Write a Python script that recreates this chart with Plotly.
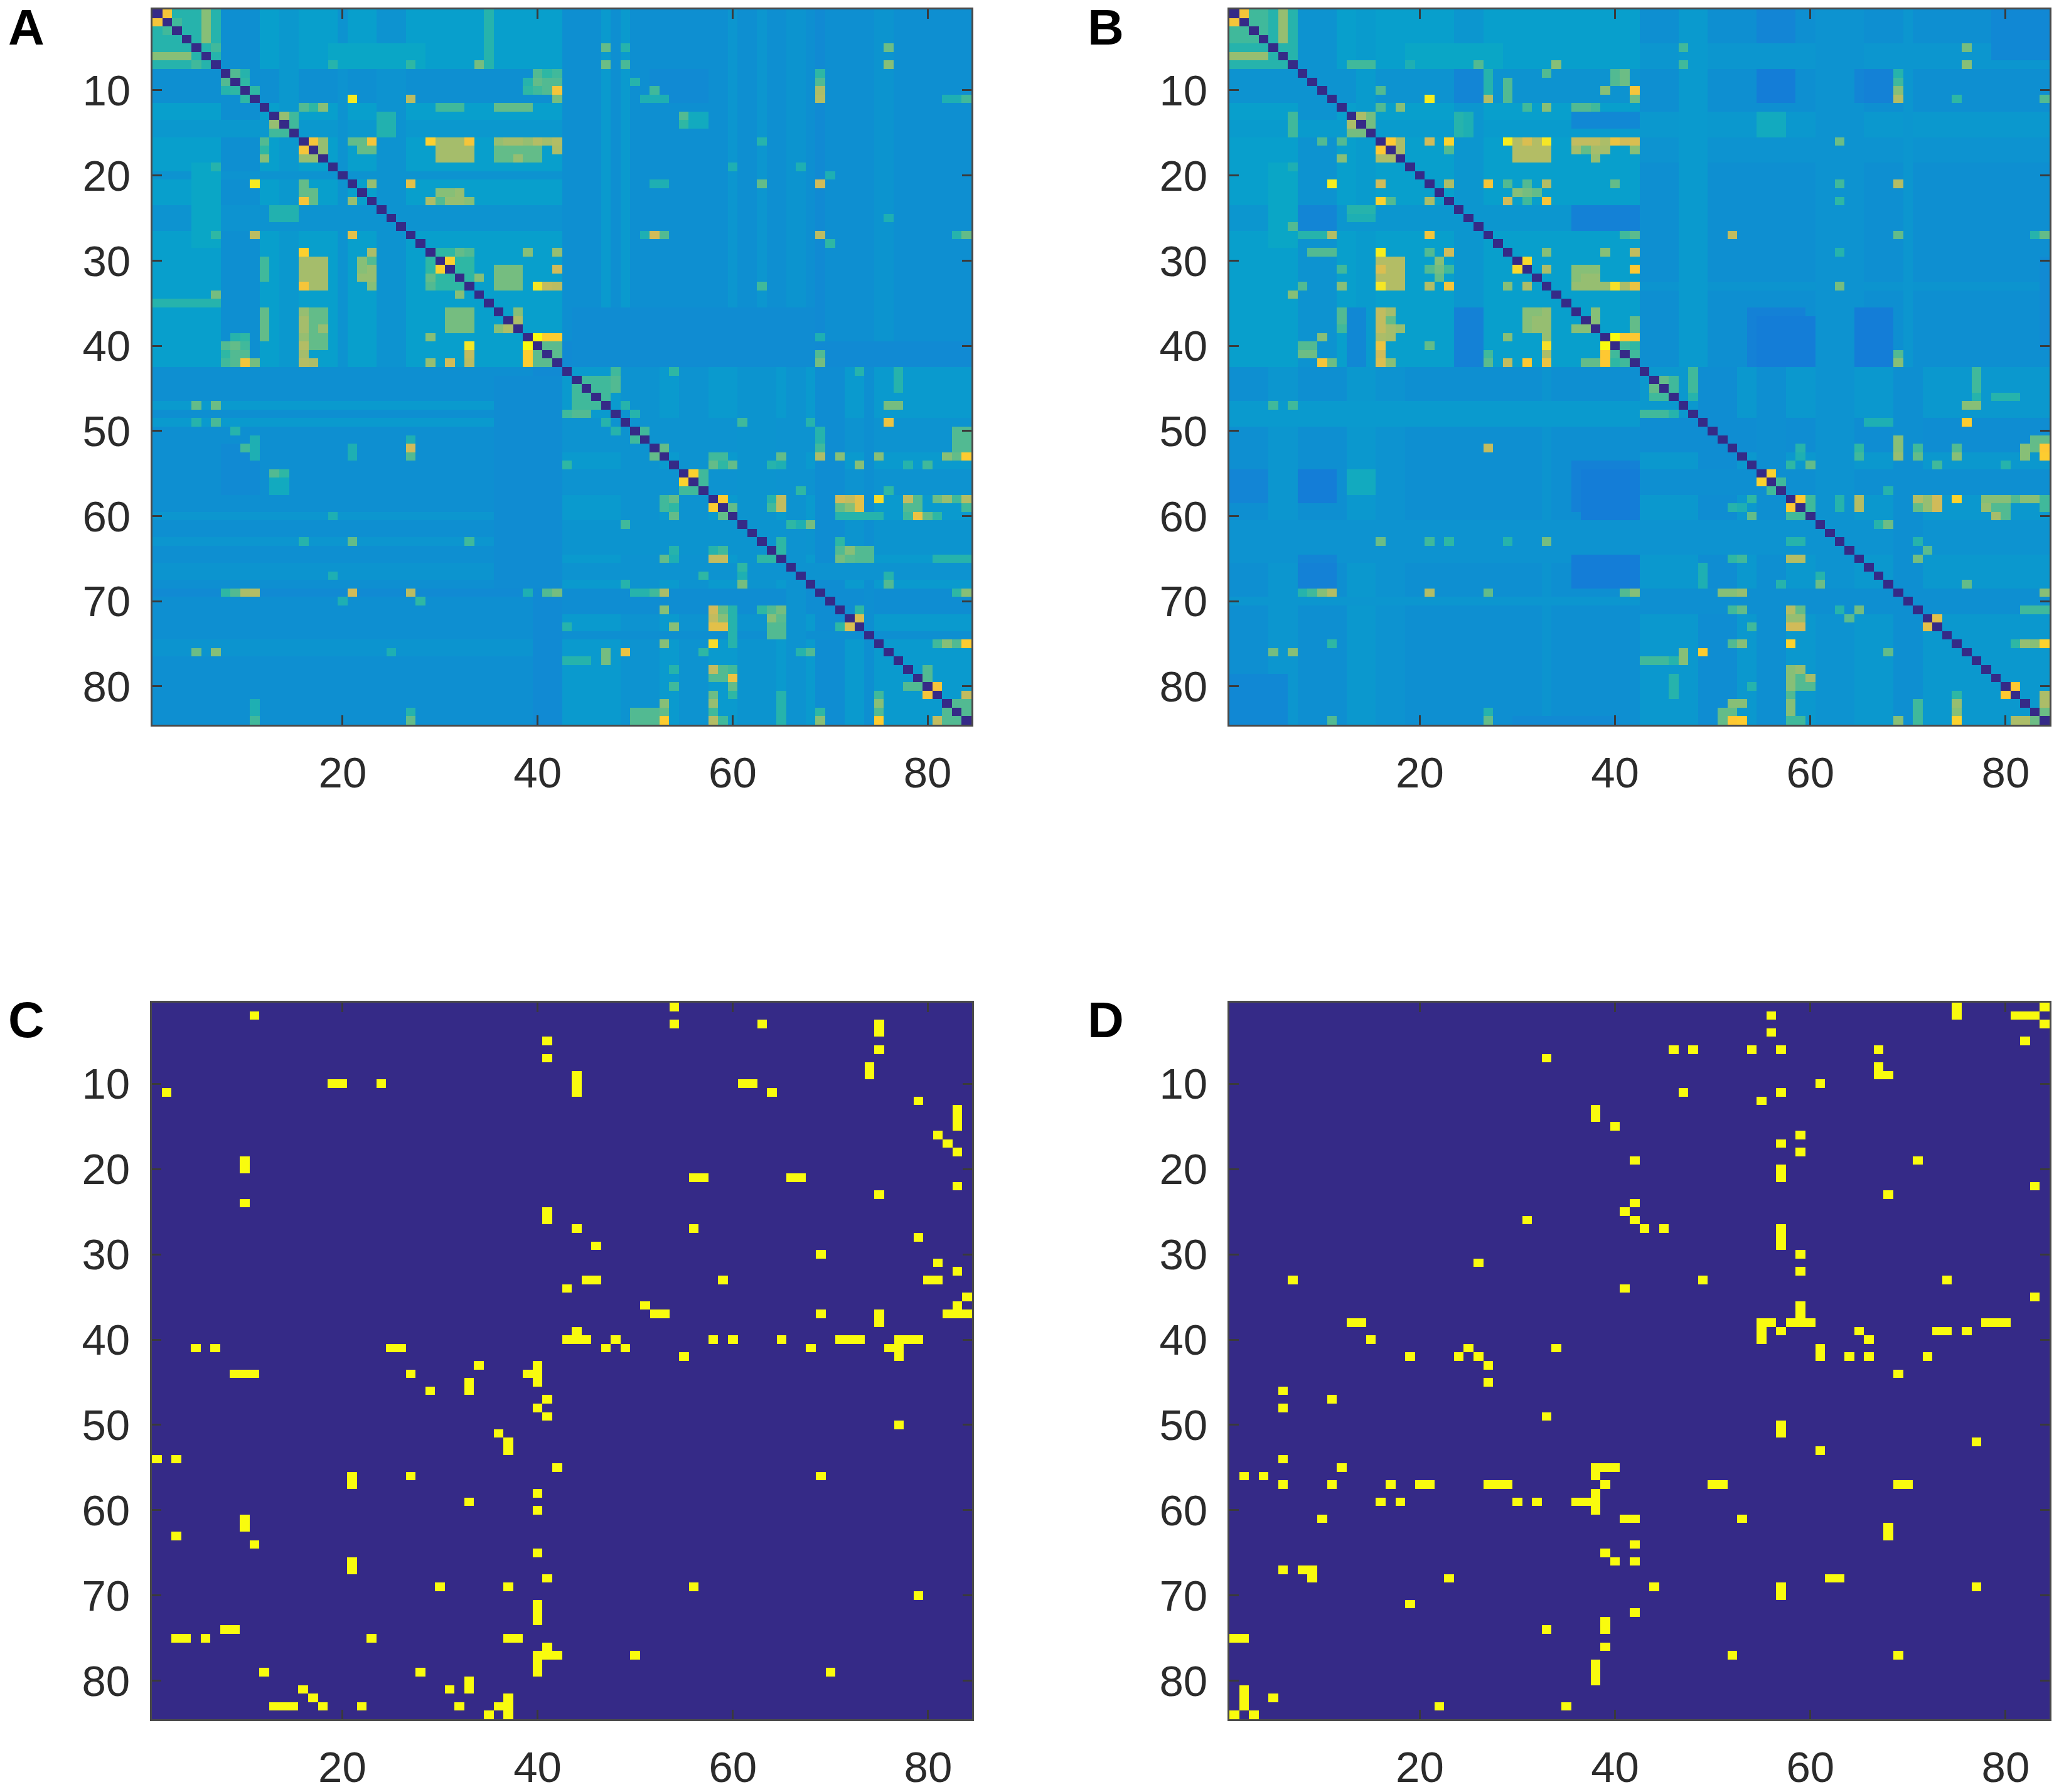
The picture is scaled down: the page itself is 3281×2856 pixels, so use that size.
import numpy as np
import plotly.graph_objects as go

N = 84
WIDTH = 3281
HEIGHT = 2856
PAGE_MARGIN = 8  # the browser's default body margin round the figure
X_TICKS = [20, 40, 60, 80]
Y_TICKS = [10, 20, 30, 40, 50, 60, 70, 80]
PANEL_LETTERS = ["A", "B", "C", "D"]

# MATLAB parula, as it looks in the picture
PARULA = [[0, "#352a87"], [0.1, "#0f5cdd"], [0.2, "#1481d6"], [0.3, "#06a4ca"], [0.4, "#2eb7a4"],
          [0.5, "#87bf77"], [0.6, "#d1bb59"], [0.7, "#fec832"], [0.85, "#f5e626"], [1, "#f9fb0e"]]
BINARY = [[0, "#352a87"], [1, "#f9fb0e"]]

# all matrices are symmetric, so only row < col is read off the picture
# blocks are (row1, row2, col1, col2, value), later ones paint over earlier ones
A_BLOCKS = [
    (1, 42, 1, 42, .285), (1, 42, 8, 11, .24), (1, 42, 14, 15, .265), (1, 42, 20, 20, .25), (1, 42, 24, 26, .25),
    (1, 42, 43, 84, .24), (1, 42, 47, 47, .27), (1, 42, 49, 49, .27), (1, 42, 60, 60, .26), (1, 42, 63, 63, .26),
    (1, 42, 66, 67, .255), (1, 42, 75, 76, .255), (1, 42, 69, 69, .225), (40, 42, 43, 84, .225), (8, 11, 52, 57, .225),
    (36, 42, 44, 68, .23), (43, 84, 43, 84, .27), (43, 84, 49, 52, .25), (43, 84, 55, 57, .25), (43, 84, 61, 64, .255),
    (43, 84, 69, 71, .235), (43, 84, 74, 74, .24), (43, 84, 66, 67, .25), (1, 7, 1, 7, .38), (1, 4, 6, 6, .5),
    (5, 7, 19, 28, .31), (16, 18, 30, 32, .55), (16, 17, 36, 39, .5), (30, 33, 16, 18, .54), (30, 32, 22, 23, .52),
    (31, 33, 36, 38, .48), (29, 33, 29, 32, .4), (12, 12, 36, 38, .5), (12, 12, 30, 32, .42), (36, 39, 12, 12, .46),
    (36, 42, 16, 16, .54), (36, 40, 17, 18, .46), (24, 25, 13, 15, .37), (22, 23, 16, 17, .46), (35, 35, 1, 7, .38),
    (13, 15, 25, 25, .37), (40, 42, 8, 10, .42), (44, 47, 44, 47, .42), (43, 44, 48, 48, .42), (48, 48, 43, 45, .44),
    (51, 52, 83, 84, .44), (58, 59, 53, 54, .4), (58, 59, 71, 72, .46), (60, 60, 71, 75, .38), (64, 65, 72, 73, .43),
    (64, 65, 58, 59, .38), (71, 72, 58, 59, .5), (71, 72, 64, 65, .44), (73, 74, 64, 65, .44), (66, 68, 61, 61, .36),
    (81, 84, 65, 65, .38), (81, 83, 58, 58, .5), (83, 84, 50, 52, .44), (78, 79, 80, 80, .46), (13, 14, 55, 57, .33),
    (82, 83, 84, 84, .42), (79, 79, 58, 59, .44),
]
A_CELLS = [
    (1, 2, .68), (2, 3, .42), (5, 7, .42), (7, 34, .48), (7, 27, .4), (7, 19, .38), (8, 9, .44), (8, 10, .38), (9, 10, .4),
    (10, 11, .4), (8, 40, .44), (9, 39, .38), (9, 40, .46), (9, 41, .44), (8, 41, .4), (10, 41, .44), (10, 42, .67),
    (11, 42, .48), (11, 21, .88), (11, 27, .57), (12, 16, .44), (12, 17, .4), (12, 18, .5), (13, 14, .52), (13, 15, .42),
    (14, 15, .42), (16, 17, .68), (16, 18, .52), (17, 18, .52), (16, 21, .46), (16, 23, .68), (16, 29, .74), (16, 33, .66),
    (16, 40, .56), (16, 42, .56), (17, 42, .55), (18, 38, .52), (21, 23, .52), (21, 27, .64), (17, 23, .46), (22, 30, .5),
    (22, 31, .5), (23, 29, .55), (23, 30, .44), (23, 33, .5), (29, 33, .44), (29, 39, .5), (29, 42, .52), (16, 33, .68),
    (30, 31, .74), (32, 34, .5), (33, 40, .88), (33, 41, .58), (33, 42, .57), (31, 42, .6), (37, 38, .55), (36, 38, .5),
    (38, 18, .52), (39, 40, 1.0), (39, 41, .72), (39, 42, .72), (40, 41, .45), (40, 42, .45), (41, 42, .45), (33, 40, .88),
    (10, 42, .68), (40, 33, .86), (39, 16, .52), (9, 42, .44), (11, 42, .48), (10, 40, .42),
    (16, 36, .52), (17, 36, .46), (29, 32, .46), (16, 42, .55), (10, 39, .4), (39, 29, .5), (42, 16, .56), (17, 42, .55),
    (5, 47, .46), (5, 49, .38), (7, 47, .47), (7, 49, .43), (5, 76, .47), (7, 76, .5), (8, 69, .4), (9, 69, .44),
    (10, 69, .55), (11, 69, .56), (10, 52, .42), (11, 51, .36), (11, 52, .36), (11, 53, .36), (9, 50, .38), (13, 55, .44),
    (14, 55, .4), (16, 63, .38), (21, 69, .6), (21, 63, .46), (21, 52, .36), (21, 53, .36), (19, 60, .36), (19, 67, .36),
    (20, 70, .36), (27, 52, .6), (27, 53, .44), (27, 51, .36), (27, 69, .57), (28, 70, .4), (27, 84, .46), (27, 83, .38),
    (25, 76, .36), (33, 63, .42), (39, 69, .36), (41, 69, .44), (42, 69, .48), (11, 84, .42), (11, 83, .36), (11, 82, .36),
    (43, 48, .42), (43, 73, .38), (44, 77, .38), (45, 77, .38), (47, 76, .46), (47, 77, .46), (49, 76, .62), (49, 61, .42),
    (49, 68, .38), (47, 49, .38), (48, 50, .38), (50, 51, .42), (52, 53, .46), (53, 58, .42), (53, 59, .42), (53, 65, .46),
    (51, 69, .42), (52, 69, .42), (53, 69, .55), (53, 71, .5), (53, 75, .48), (53, 82, .5), (53, 84, .68), (54, 58, .46),
    (54, 60, .48), (54, 73, .48), (54, 80, .42), (54, 78, .38), (54, 64, .36), (54, 65, .36), (43, 54, .4), (55, 56, .75),
    (55, 57, .42), (56, 57, .42), (57, 67, .42), (57, 76, .38), (58, 59, .72), (54, 58, .46), (58, 65, .55), (59, 65, .55),
    (59, 64, .42), (58, 71, .58), (58, 72, .52), (58, 73, .64), (59, 73, .62), (58, 75, .75), (58, 78, .56), (58, 79, .46),
    (58, 81, .47), (58, 82, .52), (58, 83, .42), (58, 84, .56), (59, 78, .44), (59, 79, .44), (60, 79, .62), (60, 80, .46),
    (60, 81, .4), (60, 78, .42), (59, 84, .42), (59, 60, .46), (54, 60, .46), (61, 68, .46), (61, 66, .4), (49, 61, .42),
    (63, 65, .38), (63, 71, .4), (64, 72, .5), (65, 71, .46), (65, 81, .38), (53, 65, .46), (54, 64, .38), (58, 65, .58),
    (59, 65, .58), (63, 65, .4), (64, 65, .4), (61, 68, .48), (57, 67, .4), (67, 76, .38), (68, 76, .44), (50, 69, .38),
    (51, 69, .38), (53, 69, .55), (69, 83, .38), (69, 84, .5), (53, 71, .5), (58, 71, .6), (59, 71, .46), (58, 72, .58),
    (65, 71, .48), (63, 71, .4), (64, 72, .5), (65, 72, .45), (58, 73, .64), (59, 73, .64), (54, 73, .5), (72, 73, .62),
    (71, 73, .4), (53, 75, .5), (58, 75, .8), (75, 84, .72), (75, 82, .52), (75, 83, .44), (75, 81, .4), (49, 76, .66),
    (47, 76, .48), (47, 77, .48), (43, 77, .38), (44, 77, .38), (68, 76, .44), (67, 76, .38), (57, 76, .4), (58, 78, .58),
    (60, 79, .66), (58, 79, .44), (54, 80, .42), (60, 80, .46), (80, 81, .68), (78, 80, .44), (79, 80, .44), (81, 84, .56),
    (53, 82, .5), (75, 82, .5), (75, 81, .42), (75, 83, .44), (53, 83, .46), (53, 84, .72), (51, 84, .44), (52, 84, .44),
    (58, 84, .56), (59, 84, .42), (69, 84, .5), (75, 84, .72), (81, 84, .58), (82, 84, .44), (83, 84, .44), (69, 83, .4),
    (82, 83, .44),
]

B_BLOCKS = [
    (1, 42, 1, 42, .285), (1, 42, 8, 11, .25), (1, 42, 14, 15, .275), (1, 42, 24, 26, .26), (1, 42, 43, 84, .235),
    (1, 42, 47, 47, .27), (1, 42, 49, 49, .265), (1, 42, 60, 60, .255), (1, 42, 63, 63, .265), (1, 42, 66, 67, .245),
    (1, 42, 75, 76, .25), (43, 84, 43, 84, .265), (43, 84, 1, 42, .24), (43, 84, 5, 7, .26), (43, 84, 13, 15, .265),
    (43, 84, 16, 18, .25), (43, 84, 33, 33, .255), (47, 49, 1, 42, .27), (61, 65, 1, 42, .25), (70, 70, 1, 42, .26),
    (43, 84, 49, 52, .235), (43, 84, 55, 57, .24), (43, 84, 61, 64, .25), (43, 84, 69, 71, .24), (8, 11, 55, 57, .21),
    (8, 11, 65, 68, .21), (36, 42, 54, 59, .2), (36, 42, 65, 68, .19), (24, 26, 8, 11, .21), (24, 26, 37, 42, .21),
    (36, 42, 24, 26, .2), (36, 42, 13, 14, .22), (1, 7, 1, 7, .38),
    (1, 4, 6, 6, .52), (1, 4, 1, 4, .42), (1, 4, 6, 6, .52), (5, 7, 19, 28, .31), (13, 15, 55, 57, .37),
    (16, 17, 36, 39, .54), (16, 18, 30, 32, .57), (31, 33, 36, 38, .5), (30, 33, 16, 18, .56), (36, 42, 16, 16, .58),
    (36, 38, 12, 12, .44), (37, 38, 32, 33, .52), (31, 32, 22, 22, .46), (24, 25, 13, 15, .38), (13, 15, 25, 25, .36),
    (55, 58, 8, 11, .19), (55, 58, 1, 4, .21), (55, 60, 37, 42, .19), (55, 57, 13, 15, .33), (66, 68, 8, 11, .2),
    (79, 84, 1, 6, .22), (30, 40, 84, 84, .225), (43, 46, 48, 48, .38),
    (43, 46, 77, 77, .38), (47, 47, 76, 77, .47), (48, 48, 43, 45, .42), (51, 52, 83, 84, .44), (58, 59, 65, 65, .55),
    (58, 59, 71, 72, .52), (58, 59, 78, 79, .52), (58, 58, 81, 82, .44), (63, 63, 58, 59, .38), (65, 65, 58, 59, .56),
    (66, 68, 49, 49, .36), (69, 69, 51, 53, .5), (71, 71, 58, 59, .5), (73, 73, 58, 59, .6), (77, 77, 43, 45, .42),
    (78, 80, 58, 58, .5), (79, 80, 59, 60, .44), (79, 81, 46, 46, .38), (83, 84, 51, 52, .46), (82, 84, 58, 58, .5),
    (82, 84, 71, 71, .42), (82, 83, 84, 84, .47), (84, 84, 81, 82, .55),
]
B_CELLS = [
    (1, 2, .68), (7, 13, .42), (7, 14, .42), (7, 15, .47), (7, 19, .42), (7, 26, .45), (7, 34, .52), (5, 76, .48), (7, 76, .5),
    (5, 47, .42), (7, 47, .42), (10, 16, .42), (11, 21, .95), (11, 27, .56), (9, 29, .44), (10, 29, .44), (11, 29, .44),
    (8, 27, .38), (9, 27, .38), (10, 27, .38), (8, 33, .4), (8, 40, .46), (8, 41, .46), (9, 40, .46), (9, 41, .46), (10, 42, .68),
    (10, 39, .4), (8, 69, .38), (9, 69, .42), (10, 69, .5), (11, 69, .56), (11, 84, .42), (11, 75, .36), (12, 16, .44),
    (12, 33, .48), (12, 31, .42), (12, 38, .42), (13, 14, .55), (13, 15, .48), (14, 15, .48), (7, 13, .42), (7, 14, .42),
    (7, 15, .47), (13, 7, .42), (14, 7, .42), (15, 7, .42), (10, 16, .44), (12, 16, .44), (12, 18, .5), (16, 17, .7),
    (16, 18, .55), (16, 21, .58), (16, 23, .78), (16, 29, .85), (16, 33, .8), (16, 40, .66), (16, 41, .6), (16, 42, .58),
    (16, 63, .47), (17, 18, .55), (17, 23, .45), (17, 37, .46), (17, 42, .55), (18, 38, .58), (7, 19, .36), (11, 21, .9),
    (16, 21, .6), (21, 23, .5), (21, 27, .7), (21, 29, .44), (21, 31, .44), (21, 33, .55), (21, 63, .42), (21, 69, .56),
    (22, 30, .5), (22, 31, .5), (16, 23, .75), (17, 23, .44), (21, 23, .55), (23, 29, .6), (23, 33, .68), (23, 63, .4),
    (23, 31, .42), (7, 26, .44), (11, 27, .56), (21, 27, .68), (27, 52, .58), (27, 69, .46), (27, 41, .42), (27, 42, .42),
    (27, 83, .38), (27, 84, .38), (16, 29, .9), (23, 29, .6), (9, 29, .44), (10, 29, .44), (11, 29, .44), (29, 39, .46),
    (29, 42, .55), (29, 63, .38), (30, 31, .78), (12, 31, .42), (16, 31, .62), (31, 33, .5), (31, 42, .7), (22, 31, .48),
    (16, 33, .85), (8, 33, .44), (12, 33, .5), (21, 33, .56), (23, 33, .68), (29, 33, .5), (31, 33, .55), (33, 36, .52),
    (33, 37, .52), (33, 38, .52), (33, 39, .52), (33, 40, .85), (33, 41, .62), (33, 42, .62), (33, 63, .48), (7, 34, .5),
    (16, 36, .58), (31, 36, .5), (36, 38, .48), (37, 38, .5), (36, 38, .5), (37, 42, .47), (38, 42, .47), (18, 38, .52),
    (39, 40, 1.0), (39, 41, .75), (39, 42, .75), (10, 39, .5), (29, 39, .5), (16, 39, .55), (33, 40, .82), (21, 40, .46),
    (16, 40, .66), (8, 40, .44), (9, 40, .44), (39, 41, .7), (8, 41, .47), (9, 41, .47), (33, 41, .55), (10, 42, .68),
    (11, 42, .47), (16, 42, .62), (17, 42, .5), (27, 42, .45), (29, 42, .58), (31, 42, .7), (33, 42, .66), (37, 42, .46),
    (38, 42, .46), (39, 42, .7), (41, 69, .44), (42, 69, .5), (27, 41, .42), (40, 41, .42), (41, 42, .42), (40, 42, .4),
    (44, 45, .46), (44, 46, .42), (45, 46, .42), (47, 76, .47), (49, 76, .68), (51, 69, .42), (52, 69, .5), (52, 71, .42),
    (52, 75, .44), (52, 82, .5), (52, 84, .7), (52, 65, .4), (52, 59, .38), (54, 60, .45), (54, 80, .38), (55, 56, .75),
    (56, 57, .42), (58, 59, .7), (54, 58, .4), (54, 60, .46), (53, 59, .36), (58, 63, .38), (58, 73, .62), (58, 75, .65),
    (60, 79, .54), (58, 84, .52), (59, 63, .38), (59, 73, .62), (59, 84, .42), (60, 58, .42), (60, 59, .42), (61, 68, .46),
    (61, 67, .38), (64, 72, .42), (65, 71, .46), (53, 65, .42), (61, 68, .47), (68, 76, .46), (57, 68, .38), (51, 69, .5),
    (53, 69, .52), (69, 84, .46), (53, 71, .46), (58, 71, .56), (59, 71, .46), (65, 71, .48), (63, 71, .38), (64, 72, .45),
    (54, 73, .42), (72, 73, .64), (58, 73, .6), (59, 73, .6), (53, 75, .5), (58, 75, .75), (75, 82, .52), (75, 81, .4),
    (75, 83, .46), (75, 84, .72), (11, 75, .4), (47, 76, .5), (49, 76, .72), (68, 76, .46), (5, 76, .48), (7, 76, .5),
    (47, 77, .5), (80, 81, .7), (53, 82, .5), (53, 84, .72), (58, 84, .42), (69, 84, .5), (75, 82, .52), (75, 83, .5),
    (75, 84, .75), (11, 84, .44), (27, 84, .46),
]

C_EDGES = [
    (1, 54), (2, 11), (3, 54), (3, 63), (3, 75), (4, 75), (5, 41), (6, 75), (7, 41), (8, 74), (9, 44), (9, 74), (10, 19),
    (10, 20), (10, 24), (10, 44), (10, 61), (10, 62), (11, 44), (11, 64), (12, 79), (13, 83), (14, 83), (15, 83), (16, 81),
    (17, 82), (18, 83), (21, 56), (21, 57), (21, 66), (21, 67), (22, 83), (23, 75), (25, 41), (26, 41), (27, 44), (27, 56),
    (28, 79), (29, 46), (30, 69), (31, 81), (32, 83), (33, 45), (33, 46), (33, 59), (33, 80), (33, 81), (34, 43), (35, 84),
    (36, 51), (36, 83), (37, 52), (37, 53), (37, 69), (37, 75), (37, 82), (37, 83), (37, 84), (38, 75), (39, 44), (40, 43),
    (40, 44), (40, 45), (40, 48), (40, 58), (40, 60), (40, 65), (40, 71), (40, 72), (40, 73), (40, 77), (40, 78), (40, 79),
    (41, 47), (41, 49), (41, 68), (41, 76), (41, 77), (42, 55), (42, 77), (50, 77), (56, 69), (70, 79),
]
D_EDGES = [
    (1, 75), (1, 84), (2, 56), (2, 75), (2, 81), (2, 82), (2, 83), (3, 84), (4, 56), (5, 82), (6, 46), (6, 48), (6, 54), (6, 57),
    (6, 67), (7, 33), (8, 67), (9, 67), (9, 68), (10, 61), (11, 47), (11, 57), (12, 55), (13, 38), (14, 38), (15, 40), (16, 59),
    (17, 57), (18, 59), (19, 42), (19, 71), (20, 57), (21, 57), (22, 83), (23, 68), (24, 42), (25, 41), (26, 31), (26, 42),
    (27, 43), (27, 45), (27, 57), (28, 57), (29, 57), (30, 59), (32, 59), (33, 49), (33, 74), (34, 41), (35, 83), (36, 59),
    (37, 59), (38, 55), (38, 56), (38, 58), (38, 59), (38, 60), (38, 78), (38, 79), (38, 80), (39, 55), (39, 57), (39, 65),
    (39, 73), (39, 74), (39, 76), (40, 55), (40, 66), (41, 61), (42, 61), (42, 64), (42, 66), (42, 72), (44, 69), (50, 57),
    (51, 57), (52, 77), (53, 61), (57, 69), (57, 70), (62, 68), (63, 68), (69, 77),
]


def corr_matrix(base, blocks, cells):
    z = np.full((N, N), base)
    for r1, r2, c1, c2, v in blocks:
        z[r1 - 1:r2, c1 - 1:c2] = v
        z[c1 - 1:c2, r1 - 1:r2] = v
    for r, c, v in cells:
        z[r - 1, c - 1] = v
        z[c - 1, r - 1] = v
    np.fill_diagonal(z, 0)
    return z


def edge_matrix(edges):
    z = np.zeros((N, N))
    for r, c in edges:
        z[r - 1, c - 1] = 1
        z[c - 1, r - 1] = 1
    return z


# screenshot pixels to paper coordinates
def px(x):
    return (x - PAGE_MARGIN) / (WIDTH - 2 * PAGE_MARGIN)


def py(y):
    return 1 - (y - PAGE_MARGIN) / (HEIGHT - 2 * PAGE_MARGIN)


matrices = [corr_matrix(.25, A_BLOCKS, A_CELLS), corr_matrix(.25, B_BLOCKS, B_CELLS),
            edge_matrix(C_EDGES), edge_matrix(D_EDGES)]
scales = [PARULA, PARULA, BINARY, BINARY]

# panel boxes in pixels: left, right, top, bottom
boxes = [(243, 1548, 15, 1155), (1959, 3266, 15, 1155), (242, 1549, 1598, 2740), (1959, 3266, 1598, 2740)]
letter_pos = [(42, 44), (1762, 44), (42, 1625), (1762, 1625)]

fig = go.Figure()
labels = list(range(1, N + 1))
for i in range(4):
    name = "" if i == 0 else str(i + 1)
    fig.add_trace(go.Heatmap(z=matrices[i], x=labels, y=labels, xaxis="x" + name, yaxis="y" + name,
                             colorscale=scales[i], zmin=0, zmax=1, showscale=False))
    left, right, top, bottom = boxes[i]
    axis_style = dict(showgrid=False, zeroline=False, showline=True, linecolor="#4a4a4a", linewidth=3, mirror="ticks",
                      ticks="inside", ticklen=15, tickwidth=3, tickcolor="#3a3a3a", automargin=False,
                      tickfont=dict(family="Liberation Sans", size=69, color="#2b2b2b"))
    fig.update_layout({
        "xaxis" + name: dict(axis_style, domain=[px(left), px(right)], range=[0.5, N + 0.5], anchor="y" + name,
                             tickvals=X_TICKS, ticklabelstandoff=14),
        "yaxis" + name: dict(axis_style, domain=[py(bottom), py(top)], range=[N + 0.5, 0.5],
                             anchor="x" + name, tickvals=Y_TICKS, ticklabelstandoff=18),
    })
    fig.add_annotation(text="<b>%s</b>" % PANEL_LETTERS[i], x=px(letter_pos[i][0]), y=py(letter_pos[i][1]),
                       xref="paper", yref="paper", showarrow=False, xanchor="center", yanchor="middle",
                       font=dict(family="Liberation Sans", size=80, color="#000000"))

fig.update_layout(width=WIDTH - 2 * PAGE_MARGIN, height=HEIGHT - 2 * PAGE_MARGIN, margin=dict(l=0, r=0, t=0, b=0),
                  paper_bgcolor="white", plot_bgcolor="white", showlegend=False)
fig.write_html("out.html")
